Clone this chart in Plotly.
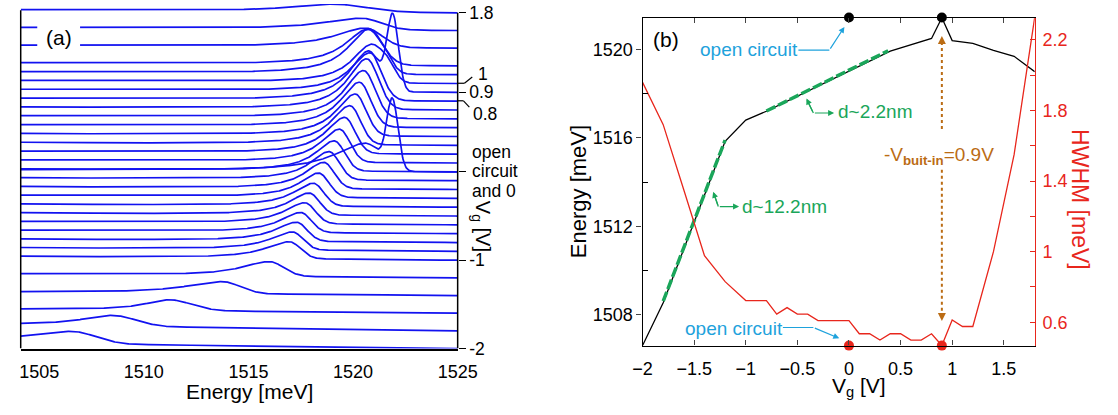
import numpy as np
import plotly.graph_objects as go

W, H = 1118, 415
FONT = "Liberation Sans, Arial, sans-serif"
BLUE = "#1212f0"
RED = "#e8261c"
GREEN = "#1aa65a"
CYAN = "#1ea2dc"
BROWN = "#bb6c14"

# ---------------- panel (a): spectra (peak parameters) ----------------
spec_vg = [-2.0, -1.8, -1.6, -1.4, -1.2, -1.0, -0.9, -0.8, -0.7, -0.6, -0.5, -0.4, -0.3, -0.2,
           -0.1, 0.0, 0.1, 0.2, 0.3, 0.4, 0.5, 0.6, 0.7, 0.8, 0.9, 1.0, 1.1, 1.2, 1.4, 1.6, 1.8]
spec_e0 = [1506.55, 1508.5, 1511.2, 1513.75, 1516.0, 1516.95, 1517.1, 1517.3, 1517.5, 1517.7,
           1517.9, 1518.1, 1518.35, 1518.6, 1518.85, 1519.1, 1519.35, 1519.6, 1519.85, 1520.1,
           1520.3, 1520.5, 1520.65, 1520.75, 1520.8, 1520.85, 1520.75, 1520.7, 1520.6, 1520.4, 1519.1]
spec_amp = [12.8, 11.2, 11.2, 12.4, 15.0, 17.5, 18.5, 19.5, 20.5, 21.5, 22.5, 23.5, 25, 27,
            29, 31, 34, 37, 40, 43, 46, 49, 52, 51, 40, 39, 46, 37, 20, 12, 8]
spec_wl = [2.75, 1.8, 1.4, 2.1, 1.6, 1.4, 1.3, 1.25, 1.2, 1.2, 1.15, 1.15, 1.1, 1.1,
           1.1, 1.1, 1.1, 1.1, 1.1, 1.1, 1.1, 1.1, 1.1, 1.1, 1.1, 1.1, 1.2, 1.3, 1.8, 2.2, 2.5]
spec_wh = [1.6, 1.55, 1.5, 1.2, 0.95, 0.75, 0.72, 0.7, 0.7, 0.7, 0.7, 0.7, 0.7, 0.7,
           0.7, 0.7, 0.7, 0.7, 0.72, 0.74, 0.76, 0.78, 0.8, 0.8, 0.75, 0.8, 0.85, 0.95, 1.1, 1.3, 2.2]
spec_tilt = [5.5, 6, 4, 3.5, 4, 4, 3.8, 3.6, 3.5, 3.4, 3.3, 3.2, 3.1, 3, 3, 3, 3, 3, 3, 3,
             3, 3, 3, 3, 3, 3, 3, 3, 3, 3, 3]
# extra narrow peaks / shoulders (gate voltage -> energy, amplitude, width)
extra_peak = {0.9: (1521.9, 76, 0.38), 1.0: (1521.7, 13, 0.5), 1.1: (1521.6, 7, 0.5)}
# open-circuit spectrum (plotted on the 0 V baseline)
oc_spec = dict(e0=1520.6, amp=29, wl=1.8, wh=1.0, tilt=2, e2=1521.88, amp2=70, w2=0.38)

E_MIN, E_MAX = 1504.116, 1525.0
INT_TO_V = 1 / 90.75          # intensity units -> offset units of the waterfall
a_xticks = [1505, 1510, 1515, 1520, 1525]

# ---------------- panel (b) data ----------------
energy_vg = [-2.0, -1.8, -1.2, -1.0, -0.8, 0.4, 0.8, 0.9, 1.0, 1.2, 1.4, 1.6, 1.8]
energy_mev = [1506.59, 1508.53, 1515.85, 1516.81, 1517.21, 1519.93, 1520.51, 1521.45,
              1520.41, 1520.29, 1519.97, 1519.70, 1519.0]
hwhm_vg = [-2.0, -1.8, -1.6, -1.4, -1.2, -1.0, -0.8, -0.7, -0.6, -0.5, -0.4, -0.3, 0.0, 0.1,
           0.2, 0.3, 0.4, 0.5, 0.6, 0.7, 0.8, 0.9, 1.0, 1.1, 1.2, 1.4, 1.6, 1.8]
hwhm_mev = [1.96, 1.72, 1.35, 0.977, 0.83, 0.723, 0.723, 0.646, 0.683, 0.646, 0.646, 0.609,
            0.609, 0.535, 0.535, 0.499, 0.535, 0.535, 0.499, 0.499, 0.535, 0.468, 0.613,
            0.576, 0.576, 1.0, 1.55, 2.33]
fit1_vg, fit1_e = [-1.8, -1.2], [1508.6, 1515.9]
fit2_vg, fit2_e = [-0.8, 0.38], [1517.22, 1519.95]
special_vg = [0.0, 0.9]          # open circuit, flat band (-V_built-in)
E_RANGE = [1506.588, 1521.456]
HW_RANGE = [0.4676, 2.327]
VG_RANGE = [-2, 1.8]


def profile(E, e0, amp, wl, wh, tilt, e2=None, amp2=0.0, w2=1.0):
    low = amp / (1 + ((E - e0) / wl) ** 2)
    high = amp * np.exp(-((E - e0) / wh) ** 2)
    y = np.where(E < e0, low, high) + tilt * (E_MAX - E) / (E_MAX - E_MIN)
    if amp2:
        y = y + amp2 * np.exp(-((E - e2) / w2) ** 2)
    return y


def P(px, py):
    return px / W, 1 - py / H


fig = go.Figure()
E = np.linspace(E_MIN, E_MAX, 700)
for i, v in enumerate(spec_vg):
    e2, a2, w2 = extra_peak.get(v, (None, 0.0, 1.0))
    y = v + INT_TO_V * profile(E, spec_e0[i], spec_amp[i], spec_wl[i], spec_wh[i], spec_tilt[i], e2, a2, w2)
    fig.add_trace(go.Scatter(x=E, y=y, mode="lines", line=dict(color=BLUE, width=1.7),
                             xaxis="x", yaxis="y", name=f"{v} V", hoverinfo="skip"))
y_oc = 0.0 + INT_TO_V * profile(E, **oc_spec)
fig.add_trace(go.Scatter(x=E, y=y_oc, mode="lines", line=dict(color=BLUE, width=1.7),
                         xaxis="x", yaxis="y", name="open circuit", hoverinfo="skip"))

# panel (b)
fig.add_trace(go.Scatter(x=energy_vg, y=energy_mev, mode="lines", line=dict(color="black", width=1.3),
                         xaxis="x2", yaxis="y2"))
fig.add_trace(go.Scatter(x=hwhm_vg, y=hwhm_mev, mode="lines", line=dict(color=RED, width=1.3),
                         xaxis="x2", yaxis="y3"))
for fx, fy in [(fit1_vg, fit1_e), (fit2_vg, fit2_e)]:
    fig.add_trace(go.Scatter(x=fx, y=fy, mode="lines", line=dict(color=GREEN, width=3.5, dash="10px,3px"),
                             xaxis="x2", yaxis="y2"))
fig.add_trace(go.Scatter(x=special_vg, y=[E_RANGE[1]] * 2, mode="markers", cliponaxis=False,
                         marker=dict(color="black", size=10), xaxis="x2", yaxis="y2"))
fig.add_trace(go.Scatter(x=special_vg, y=[HW_RANGE[0]] * 2, mode="markers", cliponaxis=False,
                         marker=dict(color=RED, size=10), xaxis="x2", yaxis="y3"))

tf = dict(family=FONT, size=18, color="black")
fig.update_layout(
    width=W, height=H, margin=dict(l=0, r=0, t=0, b=0), showlegend=False,
    paper_bgcolor="white", plot_bgcolor="rgba(0,0,0,0)", font=dict(family=FONT),
    xaxis=dict(domain=[11 / W, 460 / W], range=[E_MIN, E_MAX], anchor="y", showline=True,
               linecolor="black", linewidth=1.5, ticks="outside", ticklen=5,
               tickcolor="rgba(0,0,0,0)", tickvals=a_xticks, tickfont=tf, ticklabelstandoff=1,
               showgrid=False, zeroline=False),
    yaxis=dict(domain=[1 - 357 / H, 1 - 3 / H], range=[-2, 1.901], anchor="x", side="right",
               showline=False, tickvals=[1.8, 0.9, 0, -1, -2], ticktext=["1.8", "0.9", "", "-1", "-2"],
               ticks="outside", ticklen=7, tickwidth=1.3, tickcolor="black",
               tickfont=dict(family=FONT, size=17.5, color="black"),
               showgrid=False, zeroline=False),
    xaxis2=dict(domain=[650 / W, 1053 / W], range=VG_RANGE, anchor="y2", showline=True,
                linecolor="black", linewidth=1.3, mirror="ticks", ticks="inside", ticklen=5,
                tickvals=[-2, -1.5, -1, -0.5, 0, 0.5, 1, 1.5],
                ticktext=["\u22122", "\u22121.5", "\u22121", "\u22120.5", "0", "0.5", "1", "1.5"],
                tickfont=tf, ticklabelstandoff=7, showgrid=False, zeroline=False),
    yaxis2=dict(domain=[1 - 354 / H, 1 - 17 / H], range=E_RANGE, anchor="x2", side="left",
                showline=True, linecolor="black", linewidth=1.3, ticks="outside", ticklen=5,
                tickvals=[1508, 1512, 1516, 1520], tickfont=tf, showgrid=False, zeroline=False,
                minor=dict(tickvals=[1510, 1514, 1518], ticks="inside", ticklen=5, tickcolor="black")),
    yaxis3=dict(overlaying="y2", anchor="x2", side="right", range=HW_RANGE, showline=True,
                linecolor=RED, linewidth=1.3, ticks="inside", ticklen=5, tickcolor=RED,
                tickvals=[0.6, 1.0, 1.4, 1.8, 2.2], ticktext=["0.6", "1", "1.4", "1.8", "2.2"],
                tickfont=dict(family=FONT, size=18, color=RED), ticklabelstandoff=3,
                showgrid=False, zeroline=False,
                minor=dict(tickvals=[0.8, 1.2, 1.6, 2.0], ticks="inside", ticklen=5, tickcolor=RED)),
)

shapes = []
# panel (a) frame lines
shapes.append(dict(type="line", xref="x domain", yref="y", x0=0, x1=0, y0=-2, y1=1.83,
                   line=dict(color="black", width=1.5)))
shapes.append(dict(type="line", xref="x domain", yref="y", x0=1, x1=1, y0=-2, y1=1.8,
                   line=dict(color="black", width=1.5)))


def seg(p1, p2, color="black", width=1.2, dash="solid"):
    x0, y0 = P(*p1)
    x1, y1 = P(*p2)
    return dict(type="line", xref="paper", yref="paper", x0=x0, y0=y0, x1=x1, y1=y1,
                line=dict(color=color, width=width, dash=dash))


def dseg(p1, p2, color, width=1.2, dash="solid"):
    return dict(type="line", xref="x2", yref="y2", x0=p1[0], y0=p1[1], x1=p2[0], y1=p2[1],
                line=dict(color=color, width=width, dash=dash))


# leader lines for the "1" and "0.8" labels
shapes.append(seg((460, 84.5), (467, 84.5)))
shapes.append(seg((467, 84.5), (475, 78)))
shapes.append(seg((460, 102.5), (466, 102.5)))
shapes.append(seg((466, 102.5), (472, 109)))
# white box behind "(a)"
x0, y0 = P(28, 52)
x1, y1 = P(72, 20)
shapes.append(dict(type="rect", xref="paper", yref="paper", x0=x0, y0=y0, x1=x1, y1=y1,
                   fillcolor="white", line=dict(width=0), layer="above"))
# panel (b) helper lines (data coordinates: V_g, energy)
shapes.append(dseg((-0.49, 1519.98), (-0.19, 1519.98), CYAN, 1.2))
shapes.append(dseg((-0.64, 1507.41), (-0.345, 1507.41), CYAN, 1.2))
shapes.append(dseg((-0.405, 1517.7), (-0.345, 1517.13), GREEN, 1.3))
shapes.append(dseg((-1.31, 1513.5), (-1.266, 1512.89), GREEN, 1.3))
shapes.append(dseg((0.9, 1520.35), (0.9, 1516.32), BROWN, 2, "dot"))
shapes.append(dseg((0.9, 1514.56), (0.9, 1508.0), BROWN, 2, "dot"))
fig.update_layout(shapes=shapes)

ann = []


def text(px, py, s, size=17, color="black", xanchor="center", angle=0):
    x, y = P(px, py)
    ann.append(dict(x=x, y=y, xref="paper", yref="paper", text=s, showarrow=False, xanchor=xanchor,
                    yanchor="middle", textangle=angle, font=dict(family=FONT, size=size, color=color)))


def dtext(vx, ey, s, size=19, color="black"):
    ann.append(dict(x=vx, y=ey, xref="x2", yref="y2", text=s, showarrow=False, xanchor="center",
                    yanchor="middle", font=dict(family=FONT, size=size, color=color)))


def darrow(head, tail, color, width=1.2):
    ann.append(dict(x=head[0], y=head[1], xref="x2", yref="y2", text="", showarrow=True,
                    ax=tail[0], ay=tail[1], axref="x2", ayref="y2",
                    arrowhead=2, arrowsize=1, arrowwidth=width, arrowcolor=color))


# panel (a) texts
text(50, 37, "(a)", 21)
text(479, 75, "1", 17.5, xanchor="left")
text(474, 116, "0.8", 17.5, xanchor="left")
text(473, 155, "open", 17.5, xanchor="left")
text(473, 175, "circuit", 17.5, xanchor="left")
text(473, 195, "and 0", 17.5, xanchor="left")
text(484, 231, "V<sub>g</sub> [V]", 20, angle=90)
text(246, 401, "Energy [meV]", 21)
# panel (b) texts (data coordinates)
dtext(-1.77, 1520.45, "(b)", 21)
dtext(-0.965, 1520.0, "open circuit", 19, CYAN)
dtext(-1.11, 1507.36, "open circuit", 19, CYAN)
dtext(0.25, 1517.2, "d~2.2nm", 19, GREEN)
dtext(-0.62, 1512.9, "d~12.2nm", 19, GREEN)
dtext(0.87, 1515.2, "-V<sub><b>buit-in</b></sub>=0.9V", 19, BROWN)
text(872, 396, "V<sub>g</sub> [V]", 21)
text(584, 196, "Energy [meV]", 22, angle=-90)
text(1100, 204, "HWHM [meV]", 23, RED, angle=90)
# arrows
darrow((-0.044, 1521.03), (-0.19, 1519.98), CYAN)
darrow((-0.094, 1506.92), (-0.345, 1507.41), CYAN)
darrow((-0.412, 1517.79), (-0.345, 1517.13), GREEN)
darrow((-0.144, 1517.13), (-0.345, 1517.13), GREEN)
darrow((-1.316, 1513.56), (-1.266, 1512.89), GREEN)
darrow((-1.065, 1512.89), (-1.266, 1512.89), GREEN)
darrow((0.9, 1520.62), (0.9, 1520.2), BROWN, 1.6)
darrow((0.9, 1507.7), (0.9, 1508.1), BROWN, 1.6)
fig.update_layout(annotations=ann)

fig.write_html("out.html")
